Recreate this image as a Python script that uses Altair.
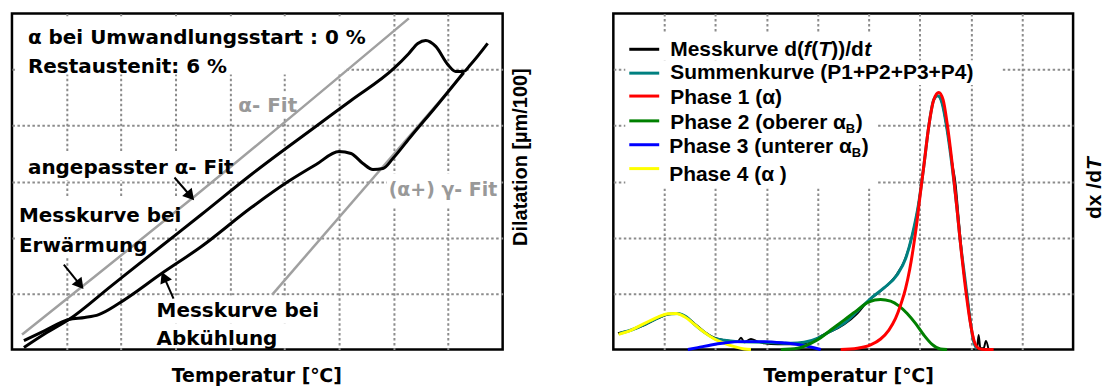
import math

import altair as alt
import pandas as pd

# ---------------------------------------------------------------
# Left panel: dilatation curves (temperature in °C, dilatation in µm/100)
# ---------------------------------------------------------------
heat_T = [21.9, 64.0, 104.3, 182.9, 274.4, 347.5, 439.0, 559.7, 621.9, 700.5,
          728.0, 744.4, 759.0, 777.3, 799.3, 813.9, 828.5, 841.3, 872.5]
heat_D = [3.6, 30.4, 53.6, 114.3, 184.9, 241.1, 312.6, 400.1, 444.7, 501.9,
          528.7, 546.5, 551.9, 541.2, 509.0, 496.5, 496.5, 509.0, 546.5]

cool_T = [21.9, 60.4, 104.3, 133.5, 159.1, 195.7, 274.4, 347.5, 439.0, 506.6,
          557.8, 599.9, 621.9, 643.8, 662.1, 680.4, 698.7, 731.6, 781.0, 828.5]
cool_D = [16.1, 33.9, 53.6, 57.2, 62.5, 82.2, 135.7, 184.0, 253.6, 300.0,
          330.4, 353.6, 350.1, 332.2, 321.5, 323.3, 341.1, 380.4, 437.6, 494.7]

alpha_fit_T = [18.3, 133.5, 334.7, 728.0]
alpha_fit_D = [26.8, 116.1, 273.3, 591.2]

gamma_fit_T = [477.4, 828.5]
gamma_fit_D = [98.2, 492.9]

left_labels = ["α bei Umwandlungsstart : 0 %", "Restaustenit: 6 %", "α- Fit",
               "angepasster α- Fit", "Messkurve bei", "Erwärmung",
               "Messkurve bei", "Abkühlung", "(α+) γ- Fit"]
left_label_T = [29.3, 29.3, 415.2, 29.3, 12.8, 12.8, 265.2, 265.2, 691.0]
left_label_D = [544.7, 492.9, 423.3, 312.6, 228.6, 175.0, 58.9, 8.9, 275.0]
left_label_col = ["black", "black", "#999999", "black", "black", "black",
                  "black", "black", "#999999"]
left_label_size = [20, 20, 20, 20, 20, 20, 20, 20, 19]

# arrows: tail -> tip
arrow_tail_T = [298.1, 95.1, 296.3]
arrow_tail_D = [307.2, 151.8, 91.1]
arrow_tip_T = [334.7, 131.7, 274.4]
arrow_tip_D = [266.1, 107.2, 139.3]

# white boxes behind the annotation texts
left_box_T1 = [5.5, 415.2, 21.9, 5.5, 5.5, 259.7, 259.7, 687.7]
left_box_T2 = [609.1, 526.8, 426.2, 318.3, 256.1, 570.6, 512.1, 894.4]
left_box_D1 = [491.1, 414.4, 301.8, 217.9, 164.3, 46.4, 3.6, 253.6]
left_box_D2 = [594.7, 460.8, 353.6, 271.5, 217.9, 96.4, 46.4, 314.3]

# ---------------------------------------------------------------
# Right panel: transformation rate dx/dT and its phase decomposition
# ---------------------------------------------------------------
mess_T = [9.1, 35.1, 61.2, 87.2, 106.7, 126.2, 142.5, 158.8, 178.3, 197.8,
          217.3, 243.4, 249.9, 256.4, 269.4, 282.4, 295.4, 321.5, 360.5, 386.5,
          412.5, 425.6, 451.6, 477.6, 497.1, 516.7, 536.2, 555.7, 568.7, 581.7,
          594.7, 607.8, 617.5, 627.3, 635.1, 643.5, 653.3, 663.1, 669.6, 676.1,
          682.6, 685.8, 692.4, 698.9, 705.4, 711.9, 715.1, 718.4, 724.9, 729.4,
          734.6]
mess_Y = [29.0, 34.9, 43.7, 55.6, 62.7, 64.5, 58.6, 46.7, 31.9, 21.3,
          17.1, 14.2, 21.3, 13.0, 18.9, 14.2, 11.2, 9.4, 9.4, 14.2,
          27.2, 31.9, 44.9, 64.5, 85.2, 100.0, 114.8, 135.5, 156.2, 191.7,
          245.0, 327.8, 398.8, 446.1, 453.2, 440.2, 392.9, 333.7, 298.2, 233.1,
          168.0, 138.4, 97.0, 49.7, 14.2, 2.3, 26.0, 2.3, 2.3, 15.4,
          0.0]

summe_T = [12.4, 35.1, 61.2, 87.2, 106.7, 126.2, 142.5, 158.8, 178.3, 197.8,
           217.3, 243.4, 295.4, 347.5, 373.5, 399.5, 425.6, 451.6, 477.6, 503.6,
           529.7, 555.7, 572.0, 584.9, 598.0, 607.8, 617.5, 627.3, 635.1, 643.5,
           653.3, 663.1, 672.8, 679.3, 685.8, 692.4, 698.9, 705.4, 711.9]
summe_Y = [29.0, 34.9, 44.9, 56.8, 63.3, 64.5, 58.6, 44.9, 30.7, 20.1,
           16.5, 14.2, 13.0, 11.2, 13.0, 20.1, 33.1, 46.7, 68.6, 91.1,
           110.0, 133.7, 162.1, 203.5, 262.7, 327.8, 398.8, 446.1, 453.2, 440.2,
           392.9, 327.8, 250.9, 191.7, 144.3, 97.0, 49.7, 14.2, 1.1]

p1_T = [445.1, 477.6, 503.6, 523.2, 539.4, 552.4, 562.2, 572.0, 580.4, 586.9,
        593.4, 601.2, 607.8, 617.5, 627.3, 637.0, 645.5, 653.3, 663.1, 672.8,
        680.6, 687.1, 693.7, 700.2, 706.7, 715.1, 728.2, 744.4]
p1_Y = [0.0, 2.3, 8.3, 18.9, 34.9, 55.6, 79.2, 108.8, 144.3, 179.8,
        221.3, 280.4, 327.8, 398.8, 446.1, 459.1, 446.1, 404.7, 333.7, 250.9,
        179.8, 126.6, 79.2, 40.8, 14.2, 2.3, 0.0, 0.0]

p2_T = [328.0, 360.5, 386.5, 406.0, 425.6, 451.6, 477.6, 500.4, 523.2, 542.7,
        558.9, 575.2, 591.5, 607.8, 624.0, 640.3, 653.3]
p2_Y = [0.0, 2.3, 11.2, 21.3, 34.9, 52.6, 70.4, 85.2, 89.3, 86.4,
        78.1, 64.5, 46.7, 26.0, 9.4, 1.1, 0.0]

p3_T = [145.8, 165.3, 191.3, 217.3, 249.9, 295.4, 334.5, 367.0, 386.5, 406.0]
p3_Y = [0.0, 3.5, 8.3, 11.8, 14.2, 14.2, 11.8, 8.3, 4.7, 0.0]

p4_T = [10.4, 35.1, 61.2, 87.2, 106.7, 123.0, 139.3, 158.8, 178.3, 197.8,
        217.3, 236.9, 256.4, 269.4]
p4_Y = [27.2, 34.9, 46.7, 58.0, 63.9, 64.5, 58.6, 44.9, 30.7, 18.9,
        11.2, 5.3, 1.1, 0.0]

series_colors = ["black", "#008080", "#ff0000", "#008000", "#0000ff", "#ffff00"]

# legend rows: symbol line and text baseline
legend_sym_T = [31.2, 89.8]
legend_sym_Y = [536.1, 493.5, 452.6, 408.3, 365.7, 323.1]
legend_text_T = 111.3
legend_text_Y = [523.6, 482.8, 438.4, 394.1, 351.5, 301.8]
# (row, text, pixel offset, style)
legend_segments = [
    (0, "Messkurve d(", 0, "b"), (0, "f", 134, "bi"), (0, "(", 141.5, "b"),
    (0, "T", 148.5, "bi"), (0, "))/d", 161.5, "b"), (0, "t", 194.5, "bi"),
    (1, "Summenkurve (P1+P2+P3+P4)", 0, "b"),
    (2, "Phase 1 (α)", 0, "b"),
    (3, "Phase 2 (oberer α", 0, "b"), (3, "B", 176, "sub"), (3, ")", 186, "b"),
    (4, "Phase 3 (unterer α", -1, "b"), (4, "B", 182, "sub"), (4, ")", 192, "b"),
    (5, "Phase 4 (α )", -1, "b"),
]

right_box_T1 = [23.4, 23.4, 23.4]
right_box_T2 = [523.1, 761.3, 515.3]
right_box_Y1 = [516.5, 472.2, 287.6]
right_box_Y2 = [564.5, 516.5, 472.2]

# ---------------------------------------------------------------
LW, LH = 492, 337
RW, RH = 461, 337
GRID_T = [100, 200, 300, 400, 500, 600, 700, 800]
GRID_Y = [100, 200, 300, 400, 500]
WIDE_BOLD = "DejaVu Sans"
ARIAL = "Liberation Sans"
GRID_STYLE = dict(gridColor="#8c8c8c", gridDash=[2.5, 2.5], gridWidth=2, gridOpacity=1)

xs = alt.Scale(domain=[0, 900], nice=False, zero=False)
ys = alt.Scale(domain=[0, 600], nice=False, zero=False)


def x_axis(title_x):
    return alt.Axis(values=GRID_T, grid=True, labels=False, ticks=False, domain=False,
                    title="Temperatur [℃]", titleFont=WIDE_BOLD, titleFontSize=19,
                    titleFontWeight="bold", titleColor="black", titlePadding=17,
                    titleX=title_x, **GRID_STYLE)


y_axis = alt.Axis(values=GRID_Y, grid=True, labels=False, ticks=False, domain=False,
                  title=None, **GRID_STYLE)


class Panel:
    """Collects layers that all share one temperature axis and one value axis."""

    def __init__(self, title_x):
        self.xa = x_axis(title_x)
        self.layers = []

    def X(self, field):
        return alt.X(field, scale=xs, axis=self.xa)

    def Y(self, field):
        return alt.Y(field, scale=ys, axis=y_axis)

    def boxes(self, t1, t2, d1, d2):
        df = pd.DataFrame({"t1": t1, "t2": t2, "d1": d1, "d2": d2})
        self.layers.append(alt.Chart(df).mark_rect(color="white").encode(
            x=self.X("t1:Q"), x2="t2:Q", y=self.Y("d1:Q"), y2="d2:Q"))

    def curve(self, t, v, color, width):
        df = pd.DataFrame({"T": t, "V": v})
        self.layers.append(alt.Chart(df).mark_line(
            color=color, strokeWidth=width, interpolate="monotone").encode(
            x=self.X("T:Q"), y=self.Y("V:Q")))


# ---- left panel ----
L = Panel(LW / 2 - 1)
L.boxes(left_box_T1, left_box_T2, left_box_D1, left_box_D2)
L.curve(alpha_fit_T, alpha_fit_D, "#a0a0a0", 2.5)
L.curve(gamma_fit_T, gamma_fit_D, "#a0a0a0", 2.5)
L.curve(heat_T, heat_D, "black", 3)
L.curve(cool_T, cool_D, "black", 3)

for size in sorted(set(left_label_size)):
    idx = [i for i, s in enumerate(left_label_size) if s == size]
    lab_df = pd.DataFrame({"T": [left_label_T[i] for i in idx],
                           "D": [left_label_D[i] for i in idx],
                           "label": [left_labels[i] for i in idx],
                           "col": [left_label_col[i] for i in idx]})
    L.layers.append(alt.Chart(lab_df).mark_text(
        font=WIDE_BOLD, fontSize=size, fontWeight="bold", align="left",
        baseline="alphabetic").encode(
        x=L.X("T:Q"), y=L.Y("D:Q"), text="label:N",
        color=alt.Color("col:N", scale=None)))

# arrows: shaft plus a filled head whose tip sits on the given point
sx, sy = LW / 900, LH / 600
rows = []
for tt, td, pt, pd_ in zip(arrow_tail_T, arrow_tail_D, arrow_tip_T, arrow_tip_D):
    dxp, dyp = (pt - tt) * sx, -(pd_ - td) * sy
    n = math.hypot(dxp, dyp)
    ux, uy = dxp / n, dyp / n
    head_T = pt - ux * 6 / sx
    head_D = pd_ + uy * 6 / sy
    base_T = pt - ux * 10 / sx
    base_D = pd_ + uy * 10 / sy
    ang = math.degrees(math.atan2(dxp, -dyp)) % 360
    rows.append({"t0": tt, "d0": td, "t1": base_T, "d1": base_D,
                 "hT": head_T, "hD": head_D, "ang": ang})
arr_df = pd.DataFrame(rows)
L.layers.append(alt.Chart(arr_df).mark_rule(color="black", strokeWidth=2).encode(
    x=L.X("t0:Q"), x2="t1:Q", y=L.Y("d0:Q"), y2="d1:Q"))
L.layers.append(alt.Chart(arr_df).mark_point(
    shape="triangle-up", filled=True, color="black", opacity=1, size=160).encode(
    x=L.X("hT:Q"), y=L.Y("hD:Q"), angle=alt.Angle("ang:Q", scale=None)))

L.layers.append(alt.Chart(pd.DataFrame({"t": ["Dilatation [µm/100]"]})).mark_text(
    font=ARIAL, fontSize=20, fontWeight="bold", angle=270, align="center",
    baseline="middle", color="black").encode(
    x=alt.value(LW + 18.5), y=alt.value(144), text="t:N"))

left = alt.layer(*L.layers).properties(width=LW, height=LH)

# ---- right panel ----
R = Panel(RW / 2 + 5)
R.boxes(right_box_T1, right_box_T2, right_box_Y1, right_box_Y2)
R.curve(mess_T, mess_Y, series_colors[0], 2)
R.curve(summe_T, summe_Y, series_colors[1], 3)
R.curve(p4_T, p4_Y, series_colors[5], 3)
R.curve(p3_T, p3_Y, series_colors[4], 3)
R.curve(p2_T, p2_Y, series_colors[3], 3)
R.curve(p1_T, p1_Y, series_colors[2], 3)

sym_df = pd.DataFrame({"t1": [legend_sym_T[0]] * 6, "t2": [legend_sym_T[1]] * 6,
                       "y": legend_sym_Y, "col": series_colors})
R.layers.append(alt.Chart(sym_df).mark_rule(strokeWidth=3).encode(
    x=R.X("t1:Q"), x2="t2:Q", y=R.Y("y:Q"), color=alt.Color("col:N", scale=None)))

styles = {"b": dict(fontSize=21, fontStyle="normal", dy=0),
          "bi": dict(fontSize=21, fontStyle="italic", dy=0),
          "sub": dict(fontSize=13, fontStyle="normal", dy=4)}
for row, txt, off, st in legend_segments:
    s = styles[st]
    seg = pd.DataFrame({"T": [legend_text_T], "Y": [legend_text_Y[row]], "t": [txt]})
    R.layers.append(alt.Chart(seg).mark_text(
        font=ARIAL, fontWeight="bold", fontSize=s["fontSize"], fontStyle=s["fontStyle"],
        align="left", baseline="alphabetic", dx=off, dy=s["dy"], color="black").encode(
        x=R.X("T:Q"), y=R.Y("Y:Q"), text="t:N"))

# rotated axis title "dx /dT" with an italic T
R.layers.append(alt.Chart(pd.DataFrame({"t": ["dx /d"]})).mark_text(
    font=ARIAL, fontSize=21, fontWeight="bold", angle=270, align="left",
    baseline="middle", color="black").encode(
    x=alt.value(RW + 22), y=alt.value(206), text="t:N"))
R.layers.append(alt.Chart(pd.DataFrame({"t": ["T"]})).mark_text(
    font=ARIAL, fontSize=21, fontWeight="bold", fontStyle="italic", angle=270,
    align="left", baseline="middle", color="black").encode(
    x=alt.value(RW + 22), y=alt.value(157), text="t:N"))

right = alt.layer(*R.layers).properties(width=RW, height=RH)

chart = alt.hconcat(left, right, spacing=79).properties(
    padding={"left": 10, "top": 11, "right": 0, "bottom": 0}
).configure_view(stroke="black", strokeWidth=2.5)

chart.save("out.html", embed_options={"renderer": "svg", "actions": False})
